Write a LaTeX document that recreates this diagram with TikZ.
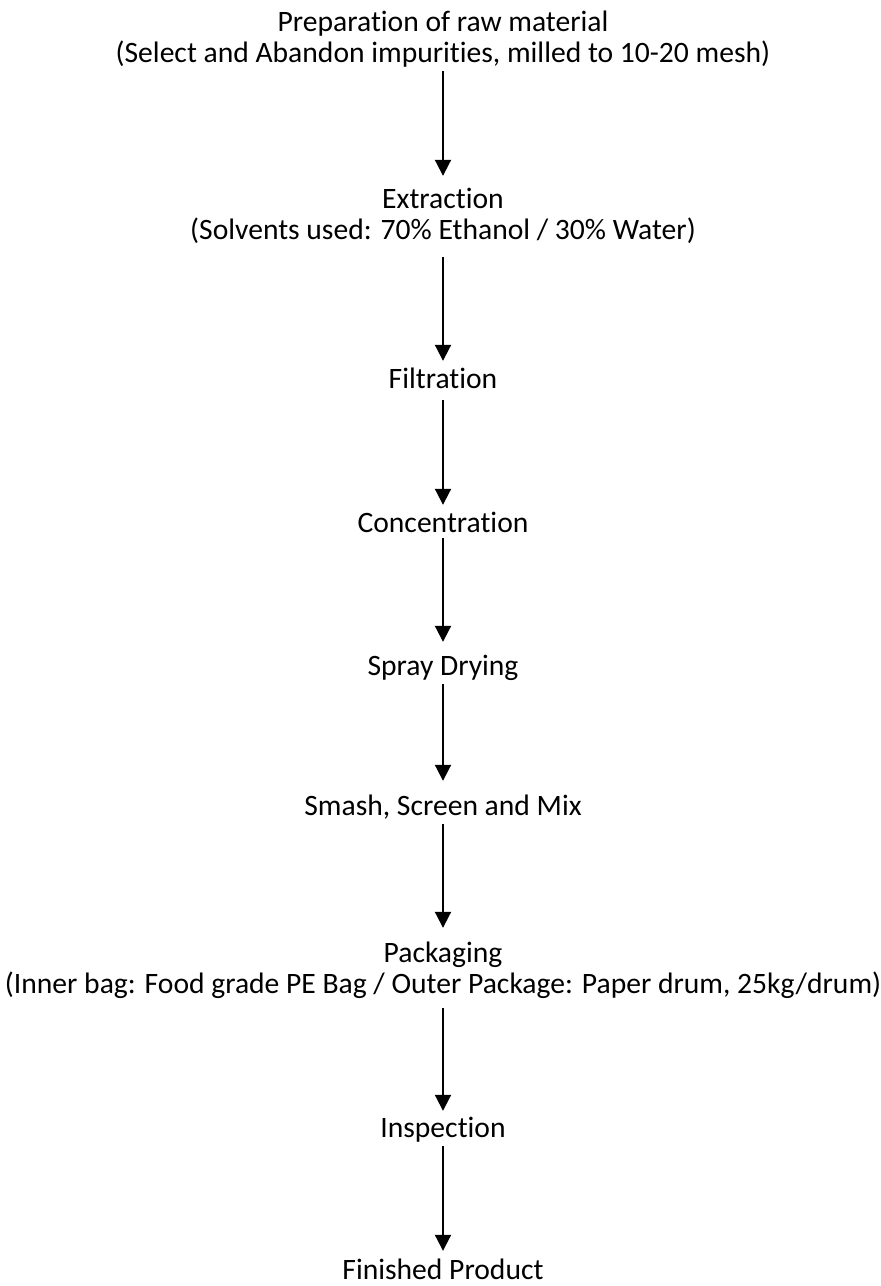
\documentclass[tikz,border=0pt]{standalone}
\usepackage{fontspec}
\setmainfont[Ligatures=NoCommon]{Carlito}
\usetikzlibrary{arrows.meta}
\begin{document}
\begin{tikzpicture}[x=1pt, y=1pt,
    every node/.style={inner sep=0pt, align=center, anchor=base, text depth=0pt, text height=19pt,
      font=\fontsize{29.6}{31}\selectfont},
    two lines/.style={text height=50pt},
    flow/.style={line width=2pt, -{Triangle[width=16pt,length=16pt]}, shorten <=9pt, shorten >=12pt}]
    \useasboundingbox (0,0) rectangle (881,-1286);
    \node[two lines] (prep) at (443,-62) {Preparation of raw material\\(Select and Abandon impurities, milled to 10-20 mesh)};
    \node[two lines] (extr) at (443,-239) {Extraction\\(Solvents used: 70\% Ethanol / 30\% Water)};
    \node (filt) at (443,-388) {Filtration};
    \node (conc) at (443,-532) {Concentration};
    \node (spray) at (443,-675) {Spray Drying};
    \node (smash) at (443,-815) {Smash, Screen and Mix};
    \node[two lines] (pack) at (443,-993) {Packaging\\(Inner bag: Food grade PE Bag / Outer Package: Paper drum, 25kg/drum)};
    \node (insp) at (443,-1137) {Inspection};
    \node (fin) at (443,-1279) {Finished Product};
    % arrows between the steps
    \draw[flow, shorten >=13pt] (prep) -- (extr);
    \draw[flow, shorten <=18pt, shorten >=8pt] (extr) -- (filt);
    \draw[flow, shorten <=12pt, shorten >=8pt] (filt) -- (conc);
    \draw[flow, shorten <=6pt, shorten >=14pt] (conc) -- (spray);
    \draw[flow, shorten >=15pt] (spray) -- (smash);
    \draw[flow, shorten >=15pt] (smash) -- (pack);
    \draw[flow, shorten <=15pt, shorten >=7pt] (pack) -- (insp);
    \draw[flow, shorten >=9pt] (insp) -- (fin);
\end{tikzpicture}
\end{document}
